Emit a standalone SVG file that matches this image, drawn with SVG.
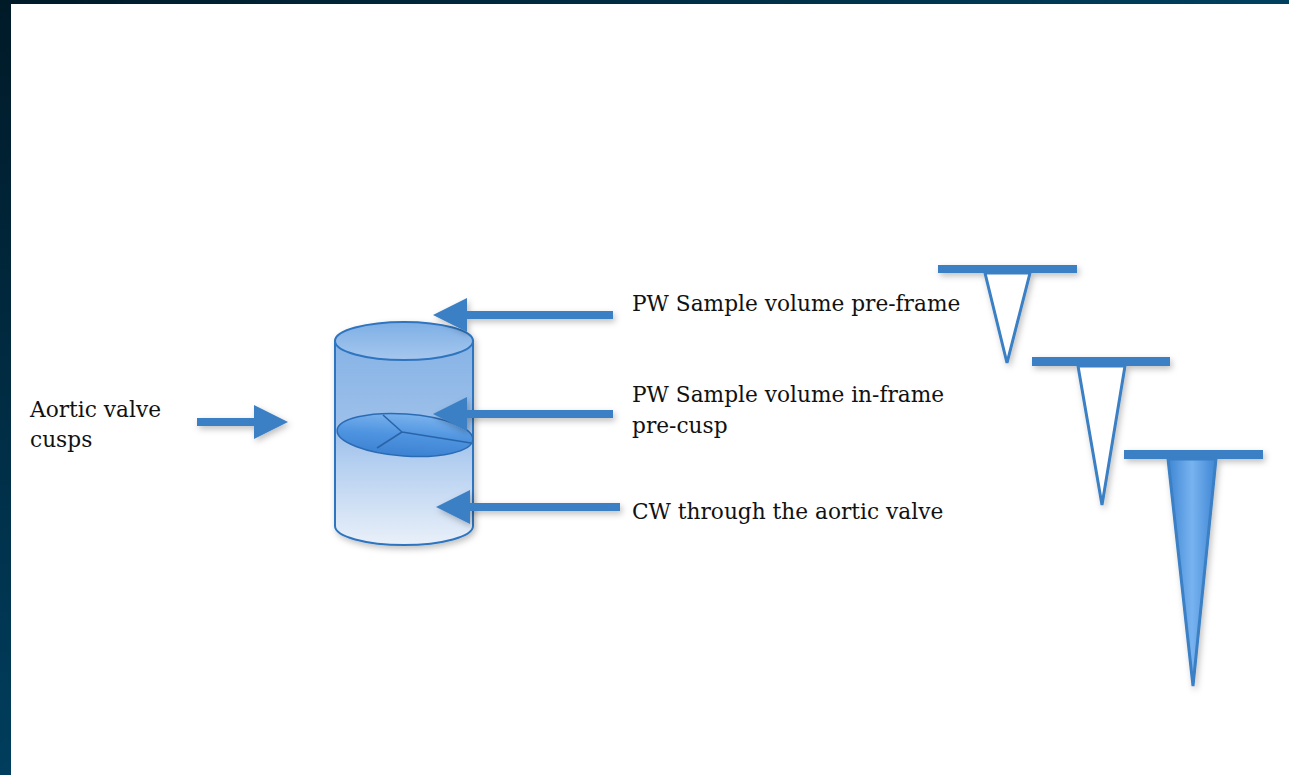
<svg xmlns="http://www.w3.org/2000/svg" width="1289" height="775" viewBox="0 0 1289 775">
  <defs>
    <linearGradient id="frameTop" x1="0" y1="0" x2="1" y2="0">
      <stop offset="0" stop-color="#001a28"/>
      <stop offset="1" stop-color="#00405f"/>
    </linearGradient>
    <linearGradient id="frameLeft" x1="0" y1="0" x2="0" y2="1">
      <stop offset="0" stop-color="#001a28"/>
      <stop offset="1" stop-color="#003e5d"/>
    </linearGradient>
    <linearGradient id="bodyFill" x1="0" y1="341" x2="0" y2="545" gradientUnits="userSpaceOnUse">
      <stop offset="0" stop-color="#86b3e6"/>
      <stop offset="0.45" stop-color="#9fc1ea"/>
      <stop offset="0.6" stop-color="#b4cff0"/>
      <stop offset="1" stop-color="#e9f0f9"/>
    </linearGradient>
    <linearGradient id="topFill" x1="0" y1="0" x2="0" y2="1">
      <stop offset="0" stop-color="#7eafe6"/>
      <stop offset="1" stop-color="#a6c7ee"/>
    </linearGradient>
    <linearGradient id="discFill" x1="0" y1="0" x2="0" y2="1">
      <stop offset="0" stop-color="#7ab2ee"/>
      <stop offset="0.5" stop-color="#4f94e0"/>
      <stop offset="1" stop-color="#3c82d2"/>
    </linearGradient>
    <linearGradient id="spikeFill" x1="0" y1="0" x2="1" y2="0">
      <stop offset="0" stop-color="#3f86d4"/>
      <stop offset="0.5" stop-color="#78b3f0"/>
      <stop offset="1" stop-color="#3f86d4"/>
    </linearGradient>
    <filter id="shadow" x="-20%" y="-20%" width="140%" height="140%">
      <feDropShadow dx="2" dy="3" stdDeviation="3" flood-color="#000" flood-opacity="0.25"/>
    </filter>
    <marker id="head" markerUnits="userSpaceOnUse" markerWidth="36" markerHeight="36" refX="0" refY="17" orient="auto">
      <path d="M0,0 L34,17 L0,34 Z" fill="#3b7fc4"/>
    </marker>
  </defs>
  <style>
    .lbl { font-family: "DejaVu Serif", "Liberation Serif", serif; font-size: 21.7px; fill: #111111; }
    .edge { fill: none; stroke: #3b7fc4; stroke-width: 8; }
    .cyl { stroke: #2f74bf; stroke-width: 2; }
    .bar { fill: #3b7fc4; }
    .spike { fill: #ffffff; stroke: #3b7fc4; stroke-width: 3; stroke-linejoin: miter; }
  </style>

  <!-- page and frame -->
  <rect x="0" y="0" width="1289" height="775" fill="#ffffff"/>
  <rect x="0" y="0" width="1289" height="4" fill="url(#frameTop)"/>
  <rect x="0" y="0" width="11" height="775" fill="url(#frameLeft)"/>

  <!-- valve cylinder -->
  <g id="node-cylinder" filter="url(#shadow)">
    <path class="cyl" d="M335,341 L335,526 A69,19 0 0 0 473,526 L473,341 Z" fill="url(#bodyFill)"/>
    <ellipse class="cyl" cx="404" cy="341" rx="69" ry="19" fill="url(#topFill)"/>
    <ellipse cx="405" cy="435" rx="68" ry="21" transform="rotate(4 405 435)" fill="url(#discFill)" stroke="#2c6cb4" stroke-width="1.5"/>
    <path d="M402,432 L383,415 M402,432 L377,448 M402,432 L471,443" fill="none" stroke="#2a64a8" stroke-width="1.6"/>
  </g>

  <!-- labels -->
  <g id="node-cusps">
    <text class="lbl" x="30" y="417">Aortic valve</text>
    <text class="lbl" x="30" y="447">cusps</text>
  </g>
  <g id="node-pw-preframe">
    <text class="lbl" x="632" y="311">PW Sample volume pre-frame</text>
  </g>
  <g id="node-pw-inframe">
    <text class="lbl" x="632" y="402">PW Sample volume in-frame</text>
    <text class="lbl" x="632" y="433">pre-cusp</text>
  </g>
  <g id="node-cw">
    <text class="lbl" x="632" y="519">CW through the aortic valve</text>
  </g>

  <!-- spectral Doppler profiles -->
  <g id="node-spectrum-pre" filter="url(#shadow)">
    <rect class="bar" x="938" y="265" width="139" height="8"/>
    <path class="spike" d="M985,273 L1030,273 L1007,363 Z"/>
  </g>
  <g id="node-spectrum-in" filter="url(#shadow)">
    <rect class="bar" x="1032" y="357" width="138" height="9"/>
    <path class="spike" d="M1078,366 L1125,366 L1102,505 Z"/>
  </g>
  <g id="node-spectrum-cw" filter="url(#shadow)">
    <rect class="bar" x="1124" y="450" width="139" height="9"/>
    <path d="M1168,459 L1216,459 L1193,686 Z" fill="url(#spikeFill)" stroke="#3b7fc4" stroke-width="3"/>
  </g>

  <!-- connectors -->
  <g id="connectors" filter="url(#shadow)">
    <path class="edge" d="M197,422 L254,422" stroke-width="7" marker-end="url(#head)"/>
    <path class="edge" d="M613,315 L467,315" marker-end="url(#head)"/>
    <path class="edge" d="M613,414 L467,414" marker-end="url(#head)"/>
    <path class="edge" d="M620,507 L470,507" marker-end="url(#head)"/>
  </g>
</svg>
